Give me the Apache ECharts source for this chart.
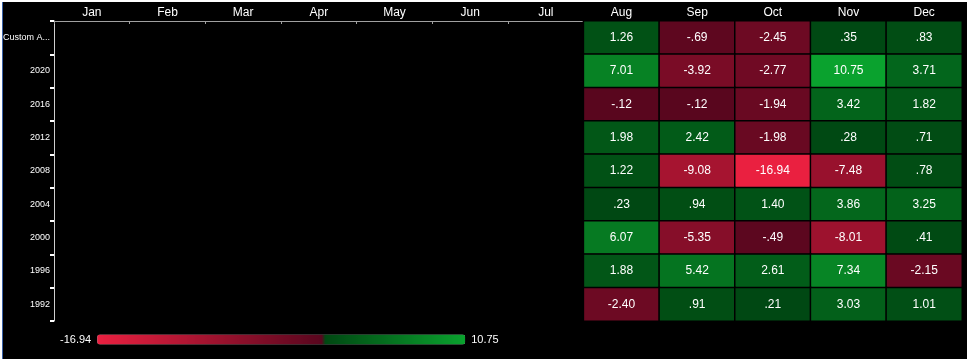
<!DOCTYPE html>
<html>
<head>
<meta charset="utf-8">
<script src="https://cdn.jsdelivr.net/npm/echarts@6/dist/echarts.min.js"></script>
<style>
  html, body { margin: 0; padding: 0; background: #ffffff; }
  #frame { position: absolute; left: 2px; top: 2px; width: 964px; height: 357px; background: #000; border-left: 1px solid #3a62a8; }
  #chart { position: absolute; left: 0; top: 0; width: 964px; height: 357px; }
</style>
</head>
<body>
<div id="frame"><div id="chart"></div></div>
<script>
// ---- data ----
const months = ['Jan', 'Feb', 'Mar', 'Apr', 'May', 'Jun', 'Jul', 'Aug', 'Sep', 'Oct', 'Nov', 'Dec'];
const rowLabels = ['Custom A...', '2020', '2016', '2012', '2008', '2004', '2000', '1996', '1992'];
const shownMonths = ['Aug', 'Sep', 'Oct', 'Nov', 'Dec'];
const rowCustom = [1.26, -0.69, -2.45, 0.35, 0.83];
const row2020 = [7.01, -3.92, -2.77, 10.75, 3.71];
const row2016 = [-0.12, -0.12, -1.94, 3.42, 1.82];
const row2012 = [1.98, 2.42, -1.98, 0.28, 0.71];
const row2008 = [1.22, -9.08, -16.94, -7.48, 0.78];
const row2004 = [0.23, 0.94, 1.40, 3.86, 3.25];
const row2000 = [6.07, -5.35, -0.49, -8.01, 0.41];
const row1996 = [1.88, 5.42, 2.61, 7.34, -2.15];
const row1992 = [-2.40, 0.91, 0.21, 3.03, 1.01];
const scaleMin = -16.94;
const scaleMax = 10.75;

const rows = [rowCustom, row2020, row2016, row2012, row2008, row2004, row2000, row1996, row1992];

// ---- build heatmap data ----
const data = [];
rows.forEach((vals, r) => {
  vals.forEach((v, i) => {
    data.push([months.indexOf(shownMonths[i]), r, v]);
  });
});

// ---- colour ramp (diverging, sharp break at 0) ----
function hex(c) { return '#' + c.map(x => Math.round(x).toString(16).padStart(2, '0')).join(''); }
function mix(a, b, t) { return [0, 1, 2].map(k => a[k] + (b[k] - a[k]) * t); }
const redDark = [88, 6, 30], redBright = [234, 32, 64];
const greenDark = [0, 70, 18], greenBright = [10, 162, 46];
const N = 240;
const ramp = [];
for (let i = 0; i < N; i++) {
  const v = scaleMin + i * (scaleMax - scaleMin) / (N - 1);
  if (v < 0) ramp.push(hex(mix(redDark, redBright, v / scaleMin)));
  else ramp.push(hex(mix(greenDark, greenBright, v / scaleMax)));
}

function fmt(v) {
  let s = Math.abs(v).toFixed(2);
  if (s.startsWith('0')) s = s.slice(1);
  return (v < 0 ? '-' : '') + s;
}

const FONT = "'Liberation Sans', Arial, sans-serif";

const chart = echarts.init(document.getElementById('chart'), null, { renderer: 'canvas' });
chart.setOption({
  backgroundColor: '#000',
  animation: false,
  textStyle: { fontFamily: FONT },
  grid: { left: 51, right: 5, top: 19, bottom: 38, containLabel: false, outerBoundsMode: 'none' },
  xAxis: {
    type: 'category',
    position: 'top',
    data: months,
    axisLine: { show: true, lineStyle: { color: '#a0a0a0', width: 1 } },
    axisTick: { show: true, inside: true, length: 3, lineStyle: { color: '#a0a0a0' } },
    axisLabel: { color: '#ffffff', fontSize: 12, margin: 2, fontFamily: FONT },
    splitLine: { show: false }
  },
  yAxis: {
    type: 'category',
    data: rowLabels,
    inverse: true,
    axisLine: { show: true, lineStyle: { color: '#cfcfcf', width: 1 } },
    axisTick: { show: true, length: 4, lineStyle: { color: '#ffffff', width: 2 } },
    axisLabel: { color: '#ffffff', fontSize: 9, margin: 4, fontFamily: FONT },
    splitLine: { show: false }
  },
  visualMap: {
    type: 'continuous',
    min: scaleMin,
    max: scaleMax,
    orient: 'horizontal',
    left: 42,
    top: 317,
    itemWidth: 10,
    itemHeight: 368,
    calculable: false,
    text: ['10.75', '-16.94'],
    textGap: 6,
    textStyle: { color: '#ffffff', fontSize: 11, fontFamily: FONT },
    inRange: { color: ramp },
    dimension: 2
  },
  series: [{
    type: 'heatmap',
    data: data,
    itemStyle: { borderColor: '#000', borderWidth: 1.5 },
    label: {
      show: true,
      color: '#ffffff',
      fontSize: 12,
      fontFamily: FONT,
      formatter: p => fmt(p.value[2])
    },
    emphasis: { disabled: true }
  }]
});
</script>
</body>
</html>
